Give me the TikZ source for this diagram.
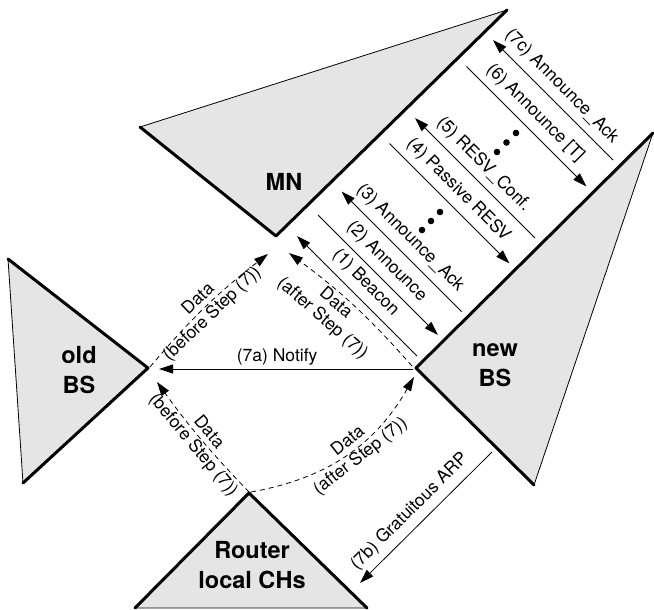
\documentclass[tikz,border=0pt]{standalone}
\usepackage{fontspec}
\setmainfont{TeX Gyre Heros}
\usetikzlibrary{arrows.meta}
\begin{document}
\begin{tikzpicture}[x=1pt,y=-1pt,
  every node/.style={font=\fontsize{17.5}{20}\selectfont, inner sep=2pt},
  area/.style={fill=gray!20, draw=black, line width=0.8pt, line join=round},
  rim/.style={line width=3pt, line cap=round, line join=round},
  msg/.style={line width=0.8pt, -{Triangle[length=14pt,width=9pt]}},
  msgback/.style={line width=0.8pt, {Triangle[length=14pt,width=9pt]}-},
  data/.style={msg, dash pattern=on 5pt off 4pt},
  lbl/.style={pos=0.48, above=5pt, sloped},
  datalbl/.style={midway, sloped, align=center},
  entity/.style={font=\fontsize{23.5}{30}\selectfont\bfseries, align=center}
]
\useasboundingbox (0,0) rectangle (654,610);

% ---- cells (triangles) ----
\coordinate (mnL) at (140,127);
\coordinate (mnT) at (507,10);
\coordinate (mnB) at (276,236);
\draw[area] (mnL) -- (mnT) -- (mnB) -- cycle;
\draw[rim] (mnT) -- (mnB) -- (mnL);

\coordinate (nbT) at (653,133);
\coordinate (nbL) at (416,368);
\coordinate (nbB) at (534,485);
\draw[area] (nbT) -- (nbL) -- (nbB) -- cycle;
\draw[rim] (nbT) -- (nbL) -- (nbB);

\coordinate (obT) at (8,259);
\coordinate (obR) at (148,368);
\coordinate (obB) at (23,483);
\draw[area] (obT) -- (obR) -- (obB) -- cycle;
\draw[rim] (obT) -- (obR) -- (obB);

\coordinate (rtT) at (249,493);
\coordinate (rtL) at (135,608);
\coordinate (rtR) at (367,608);
\draw[area] (rtT) -- (rtL) -- (rtR) -- cycle;
\draw[rim] (rtL) -- (rtT) -- (rtR);

\node[entity] (mn) at (284,182) {MN};
\node[entity] (oldbs) at (79,370) {old\\BS};
\node[entity] (newbs) at (495,365) {new\\BS};
\node[entity] (router) at (252,565) {Router\\local CHs};

% ---- signalling between MN and new BS ----
\coordinate (m1a) at (297,236);   \coordinate (m1b) at (417,356);
\coordinate (m2a) at (318,215);   \coordinate (m2b) at (438,335);
\coordinate (m3a) at (341.5,191.5); \coordinate (m3b) at (461.5,311.5);
\coordinate (m4a) at (389.5,143.5); \coordinate (m4b) at (509.5,263.5);
\coordinate (m5a) at (415,118);   \coordinate (m5b) at (535,238);
\coordinate (m6a) at (466.5,66.5); \coordinate (m6b) at (586.5,186.5);
\coordinate (m7a) at (493,40);    \coordinate (m7b) at (613,160);

\draw[msgback] (m1a) -- (m1b) node[lbl] {(1) Beacon};
\draw[msg]     (m2a) -- (m2b) node[lbl] {(2) Announce};
\draw[msgback] (m3a) -- (m3b) node[lbl] {(3) Announce\_Ack};
\draw[msg]     (m4a) -- (m4b) node[lbl] {(4) Passive RESV};
\draw[msgback] (m5a) -- (m5b) node[lbl] {(5) RESV\_Conf.};
\draw[msg]     (m6a) -- (m6b) node[lbl] {(6) Announce [T]};
\draw[msgback] (m7a) -- (m7b) node[lbl] {(7c) Announce\_Ack};

% omitted messages
\foreach \p in {(422,230),(431,221),(440,212),(497,152),(506.5,142.5),(516,133)}
  \fill \p circle[radius=3.3pt];

% ---- handover messages ----
\coordinate (nfA) at (413,369);
\coordinate (nfB) at (159,369);
\draw[msg] (nfA) -- (nfB) node[pos=0.535, above=1.5pt] {(7a) Notify};

\coordinate (gaA) at (492,452);
\coordinate (gaB) at (360,583);
\draw[msg] (gaA) -- (gaB) node[pos=0.54, above=5pt, sloped] {(7b) Gratuitous ARP};

% ---- data paths ----
\coordinate (dAs) at (150,367);  \coordinate (dAe) at (268,254);
\coordinate (dBs) at (412,366);  \coordinate (dBe) at (289,253);
\coordinate (dCs) at (249,492);  \coordinate (dCe) at (157,382);
\coordinate (dDs) at (251,492);  \coordinate (dDe) at (414,377);

\draw[data] (dAs) to[bend left=6]  node[datalbl] {Data\\(before Step (7))} (dAe);
\draw[data] (dBs) to[bend right=6] node[datalbl, pos=0.6, below=0pt] {Data\\(after Step (7))} (dBe);
\draw[data] (dCs) to[bend left=4]  node[datalbl] {Data\\(before Step (7))} (dCe);
\draw[data] (dDs) to[bend right=25] node[datalbl, pos=0.55] {Data\\(after Step (7))} (dDe);
\end{tikzpicture}
\end{document}
